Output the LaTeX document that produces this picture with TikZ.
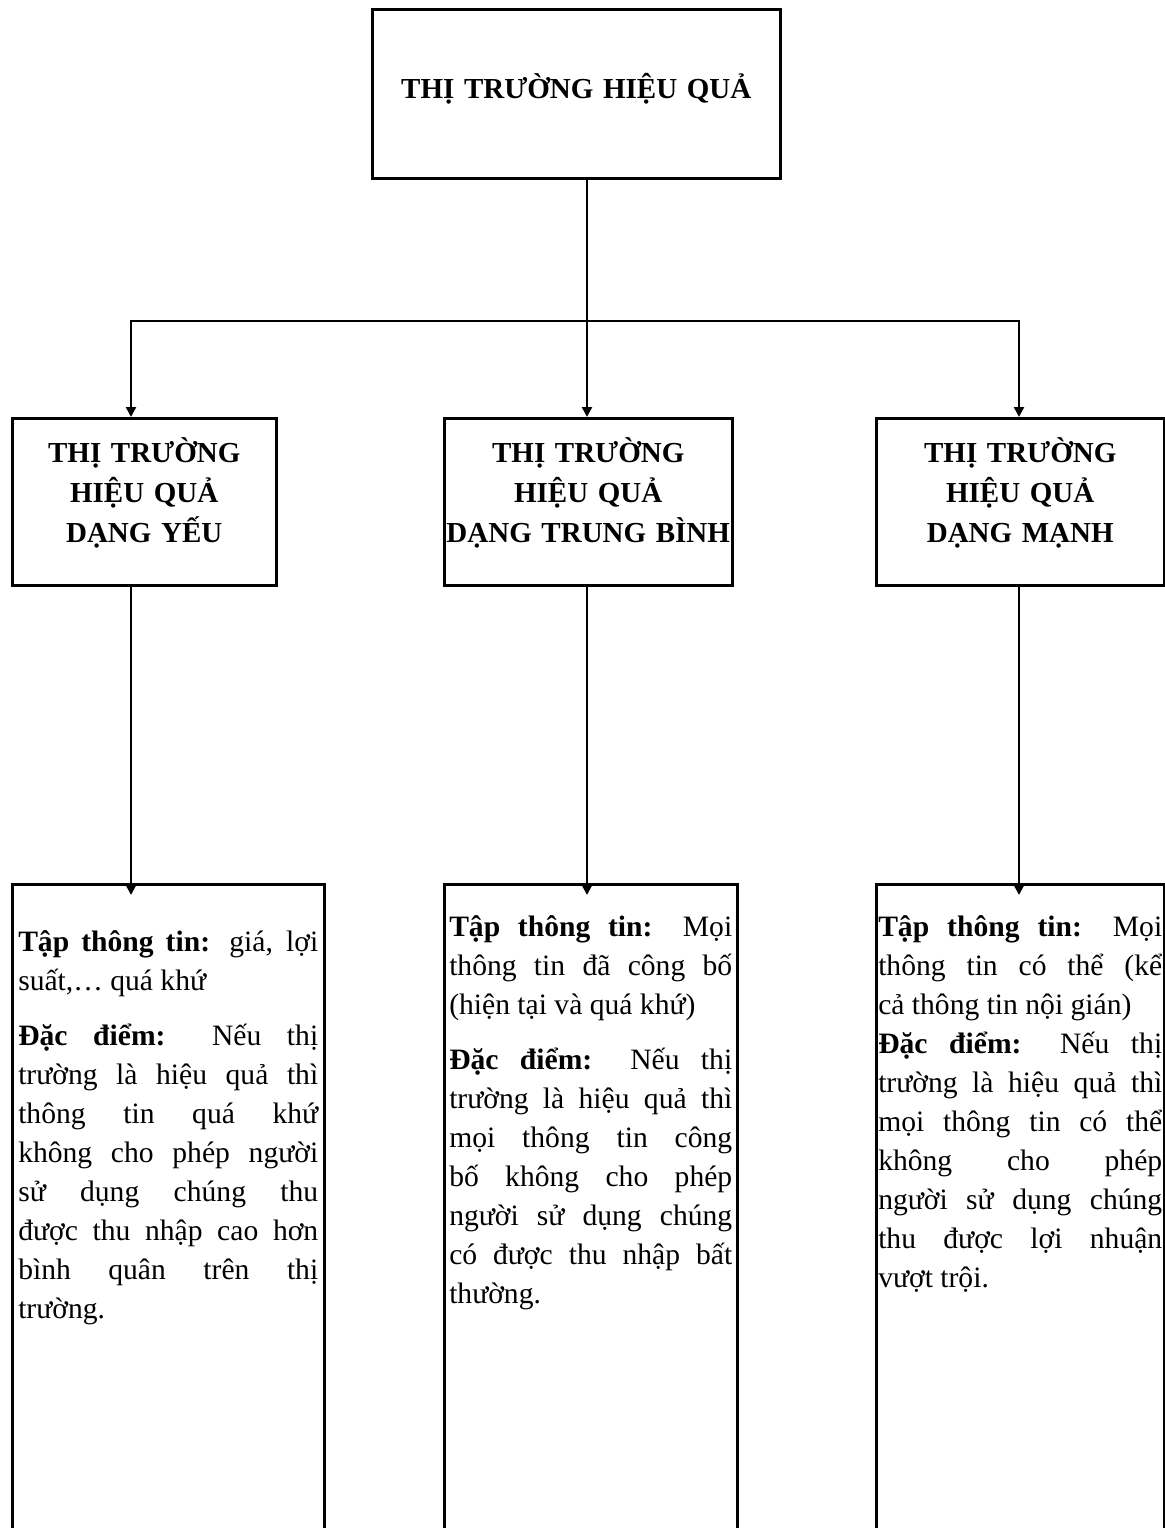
\documentclass[tikz,border=0pt]{standalone}
\usepackage{fontspec}
\setmainfont{Liberation Serif}
\usetikzlibrary{arrows.meta}

\begin{document}
\begin{tikzpicture}[x=0.5pt,y=-0.5pt]
  \tikzset{TitleStyle/.style = {
    shape         = rectangle,
    draw          = black,
    line width    = 1.25pt,
    anchor        = north west,
    align         = center,
    inner sep     = 0pt,
    font          = \bfseries\fontsize{14.5pt}{20pt}\selectfont
    }
  }
  \tikzset{InfoStyle/.style = {
    shape         = rectangle,
    draw          = black,
    line width    = 1.25pt,
    anchor        = north west,
    align         = justify,
    inner ysep    = 0pt,
    text depth    = 305pt,
    font          = \fontsize{14.8pt}{19.5pt}\selectfont
    }
  }
  \tikzset{EdgeStyle/.style = {
    draw          = black,
    line width    = 1.1pt
    }
  }
  \tikzset{ArrowStyle/.style = {
    EdgeStyle,
    -{Triangle[length=5pt,width=5pt]}
    }
  }

  \useasboundingbox (0,0) rectangle (1165,1528);

	\node[TitleStyle, text width=204pt, text height=44.5pt, text depth=40pt](T0) at (371,8) {THỊ TRƯỜNG HIỆU QUẢ};
	\node[TitleStyle, text width=132pt, text height=22pt, text depth=61.5pt](A1) at (11,417) {THỊ TRƯỜNG\\HIỆU QUẢ\\DẠNG YẾU};
	\node[TitleStyle, text width=144pt, text height=22pt, text depth=61.5pt](B1) at (443,417) {THỊ TRƯỜNG\\HIỆU QUẢ\\DẠNG TRUNG BÌNH};
	\node[TitleStyle, text width=144pt, text height=22pt, text depth=61.5pt](C1) at (875,417) {THỊ TRƯỜNG\\HIỆU QUẢ\\DẠNG MẠNH};

	\node[InfoStyle, text width=150pt, inner xsep=3pt, text height=33.5pt](A2) at (11,883) {\textbf{Tập thông tin:} giá, lợi\linebreak suất,… quá khứ\par\vspace{8pt}
	\textbf{Đặc điểm:} Nếu thị\linebreak trường là hiệu quả thì\linebreak thông tin quá khứ\linebreak không cho phép người\linebreak sử dụng chúng thu\linebreak được thu nhập cao hơn\linebreak bình quân trên thị\linebreak trường.};
	\node[InfoStyle, text width=141.5pt, inner xsep=2.5pt, text height=26pt](B2) at (443,883) {\textbf{Tập thông tin:} Mọi\linebreak thông tin đã công bố\linebreak (hiện tại và quá khứ)\par\vspace{8pt}
	\textbf{Đặc điểm:} Nếu thị\linebreak trường là hiệu quả thì\linebreak mọi thông tin công\linebreak bố không cho phép\linebreak người sử dụng chúng\linebreak có được thu nhập bất\linebreak thường.};
	\node[InfoStyle, text width=142pt, inner xsep=1pt, text height=26pt](C2) at (875,883) {\textbf{Tập thông tin:} Mọi\linebreak thông tin có thể (kể\linebreak cả thông tin nội gián)\par
	\textbf{Đặc điểm:} Nếu thị\linebreak trường là hiệu quả thì\linebreak mọi thông tin có thể\linebreak không cho phép\linebreak người sử dụng chúng\linebreak thu được lợi nhuận\linebreak vượt trội.};

	\coordinate (HA) at (131,321);
	\coordinate (HB) at (587,321);
	\coordinate (HC) at (1019,321);

	\draw[EdgeStyle](T0.south -| HB) -- (HB);
	\draw[EdgeStyle, {Triangle[length=5pt,width=5pt]}-{Triangle[length=5pt,width=5pt]}](A1.north -| HA) -- (HA) -- (HC) -- (C1.north -| HC);
	\draw[ArrowStyle](HB) -- (B1.north -| HB);
	\draw[ArrowStyle, shorten >=-6pt](A1.south -| HA) -- (A2.north -| HA);
	\draw[ArrowStyle, shorten >=-6pt](B1.south -| HB) -- (B2.north -| HB);
	\draw[ArrowStyle, shorten >=-6pt](C1.south -| HC) -- (C2.north -| HC);

  \end{tikzpicture}
\end{document}
